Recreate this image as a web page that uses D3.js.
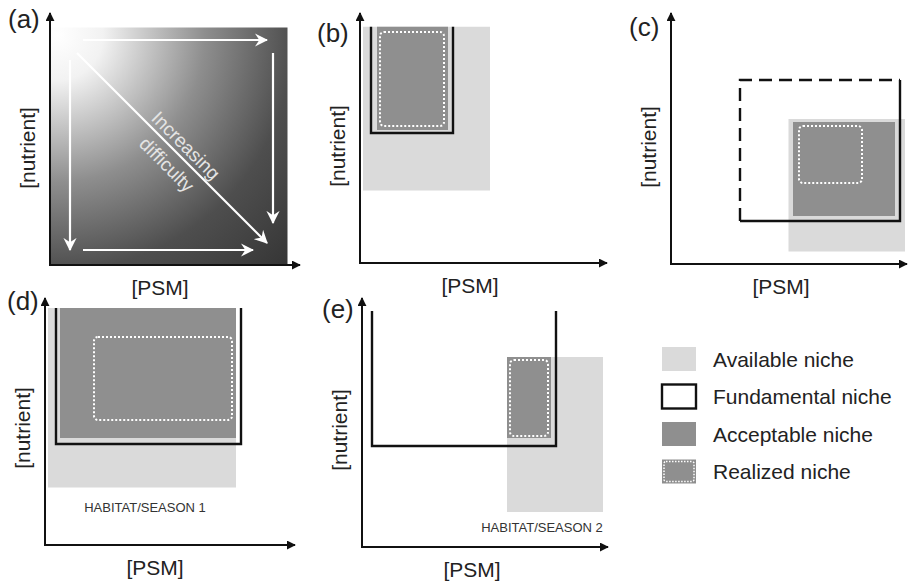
<!DOCTYPE html>
<html lang="en">
  <head>
    <meta charset="utf-8">
    <title>Niche panels</title>
    <style>
      body { margin: 0; background: #fff; }
      text { font-family: "Liberation Sans", Arial, sans-serif; fill: #222; }
    </style>
    <script src="https://d3js.org/d3.v7.min.js"></script>
  </head>
  <body>
    <div id="viz"></div>
    <script>

    // niche extents in axis units (0-100): [psmLow, psmHigh, nutLow, nutHigh]
    var panelLabels = ['(a)', '(b)', '(c)', '(d)', '(e)'];
    var availableNiche   = [null, [1.2, 52, 29, 94.5], [47, 93.6, 5, 58],     [1.2, 76.4, 23, 94.8], [58, 96.4, 14, 76]];
    var fundamentalNiche = [null, [4.4, 37.2, 52, 94.5], [27.6, 91.6, 17.2, 73.6], [4.4, 78.4, 40.4, 94.8], [4, 77.6, 40.4, 94.4]];
    var acceptableNiche  = [null, [6.8, 35.2, 53.2, 94.5], [48.8, 89.6, 19.2, 56.8], [6, 76.4, 42.8, 94.8], [58, 75.6, 43.6, 76]];
    var realizedNiche    = [null, [8, 33.6, 54.8, 92.4], [51.2, 76.4, 32.4, 55.2], [19.6, 74.8, 50, 83.2], [59.2, 74.4, 44.4, 74.8]];
    var habitatLabels = [null, null, null, 'HABITAT/SEASON 1', 'HABITAT/SEASON 2'];
    var legendItems = ['Available niche', 'Fundamental niche', 'Acceptable niche', 'Realized niche'];
    // panel (a): gradient square and arrows [x1, y1, x2, y2]
    var gradientSquare = [0, 95, 0, 95];
    var difficultyArrows = [[13.2, 90, 86.8, 90], [89.2, 84.8, 89.2, 16.8], [8, 82, 8, 6], [13.2, 6, 81.2, 6], [10.8, 84.8, 86.8, 8.8]];

    var lightGray = '#dadada',
        darkGray = '#8f8f8f';

    // axis origin and lengths for each panel
    var layout = [
      {ox: 50, oy: 265, xl: 250, yl: 252},
      {ox: 360, oy: 263, xl: 247, yl: 250},
      {ox: 671, oy: 264, xl: 236, yl: 251},
      {ox: 45, oy: 545, xl: 250, yl: 247},
      {ox: 362, oy: 547, xl: 246, yl: 249}
    ];

    var svg = d3.select('#viz')
        .append('svg')
        .attr('width', 912)
        .attr('height', 584);

    var defs = svg.append('defs');
    defs.append('marker')
        .attr('id', 'axisHead')
        .attr('viewBox', '0 0 10 10')
        .attr('refX', 9).attr('refY', 5)
        .attr('markerWidth', 4.5).attr('markerHeight', 4.5)
        .attr('markerUnits', 'strokeWidth')
        .attr('orient', 'auto')
      .append('path')
        .attr('d', 'M0,0 L10,5 L0,10 z')
        .attr('fill', '#111');
    defs.append('marker')
        .attr('id', 'whiteHead')
        .attr('viewBox', '0 0 12 12')
        .attr('refX', 11).attr('refY', 6)
        .attr('markerWidth', 6).attr('markerHeight', 6)
        .attr('markerUnits', 'strokeWidth')
        .attr('orient', 'auto')
      .append('path')
        .attr('d', 'M0,0 L12,6 L0,12 L4,6 z')
        .attr('fill', '#fff');
    var grad = defs.append('radialGradient')
        .attr('id', 'difficulty')
        .attr('gradientUnits', 'objectBoundingBox')
        .attr('cx', 0.03).attr('cy', 0.03).attr('r', 1.38)
        .attr('fx', 0.03).attr('fy', 0.03);
    [[0, '#ffffff'], [0.14, '#f2f2f2'], [0.45, '#8e8e8e'], [0.72, '#4e4e4e'], [1, '#353535']].forEach(function(s) {
      grad.append('stop').attr('offset', s[0]).attr('stop-color', s[1]);
    });

    function rectOf(g, ext, x, y) {
      return g.append('rect')
          .attr('x', x(ext[0]))
          .attr('y', y(ext[3]))
          .attr('width', x(ext[1]) - x(ext[0]))
          .attr('height', y(ext[2]) - y(ext[3]));
    }

    layout.forEach(function(L, i) {
      var g = svg.append('g');
      var x = d3.scaleLinear().domain([0, 100]).range([L.ox, L.ox + 250]);
      var y = d3.scaleLinear().domain([0, 100]).range([L.oy, L.oy - 250]);

      if (i === 0) {
        rectOf(g, gradientSquare, x, y).attr('fill', 'url(#difficulty)');
        g.selectAll('line.arrow')
          .data(difficultyArrows)
          .enter()
          .append('line')
            .attr('class', 'arrow')
            .attr('x1', function(d) { return x(d[0]); })
            .attr('y1', function(d) { return y(d[1]); })
            .attr('x2', function(d) { return x(d[2]); })
            .attr('y2', function(d) { return y(d[3]); })
            .attr('stroke', '#fff')
            .attr('stroke-width', 2.2)
            .attr('marker-end', 'url(#whiteHead)');
        var d = difficultyArrows[4];
        var t = 0.53;
        var px = x(d[0]) + t * (x(d[2]) - x(d[0])),
            py = y(d[1]) + t * (y(d[3]) - y(d[1]));
        var tg = g.append('g').attr('transform', 'translate(' + px + ',' + py + ') rotate(45)');
        tg.append('text').attr('y', -5).attr('text-anchor', 'middle')
          .style('font-size', '19px').style('fill', '#e4e4e4').text('Increasing');
        tg.append('text').attr('y', 22).attr('text-anchor', 'middle')
          .style('font-size', '19px').style('fill', '#e4e4e4').text('difficulty');
      } else {
        rectOf(g, availableNiche[i], x, y).attr('fill', lightGray);
        rectOf(g, acceptableNiche[i], x, y).attr('fill', darkGray);
        var r = realizedNiche[i];
        g.append('rect')
          .attr('x', x(r[0])).attr('y', y(r[3]))
          .attr('width', x(r[1]) - x(r[0]))
          .attr('height', y(r[2]) - y(r[3]))
          .attr('rx', 4).attr('ry', 4)
          .attr('fill', 'none')
          .attr('stroke', '#fff')
          .attr('stroke-width', 2)
          .attr('stroke-dasharray', '2,2');
        var f = fundamentalNiche[i];
        if (i === 2) {
          // unknown limits drawn dashed
          g.append('path')
            .attr('d', 'M' + x(f[0]) + ',' + y(f[2]) + 'L' + x(f[0]) + ',' + y(f[3]) + 'L' + x(f[1]) + ',' + y(f[3]))
            .attr('fill', 'none').attr('stroke', '#111').attr('stroke-width', 2.4)
            .attr('stroke-dasharray', '13,7');
          g.append('path')
            .attr('d', 'M' + x(f[0]) + ',' + y(f[2]) + 'L' + x(f[1]) + ',' + y(f[2]) + 'L' + x(f[1]) + ',' + y(f[3]))
            .attr('fill', 'none').attr('stroke', '#111').attr('stroke-width', 2.4);
        } else {
          g.append('path')
            .attr('d', 'M' + x(f[0]) + ',' + y(f[3]) + 'L' + x(f[0]) + ',' + y(f[2]) + 'L' + x(f[1]) + ',' + y(f[2]) + 'L' + x(f[1]) + ',' + y(f[3]))
            .attr('fill', 'none').attr('stroke', '#111').attr('stroke-width', 2.4);
        }
        if (habitatLabels[i]) {
          var hx = i === 3 ? x(40) : x(72);
          var hy = i === 3 ? L.oy - 33 : L.oy - 15;
          g.append('text')
            .attr('x', hx).attr('y', hy)
            .attr('text-anchor', 'middle')
            .style('font-size', '13px')
            .style('fill', '#333')
            .text(habitatLabels[i]);
        }
      }

      // axes
      g.append('line')
        .attr('x1', L.ox).attr('y1', L.oy + 1)
        .attr('x2', L.ox).attr('y2', L.oy - L.yl)
        .attr('stroke', '#111').attr('stroke-width', 2)
        .attr('marker-end', 'url(#axisHead)');
      g.append('line')
        .attr('x1', L.ox - 1).attr('y1', L.oy)
        .attr('x2', L.ox + L.xl).attr('y2', L.oy)
        .attr('stroke', '#111').attr('stroke-width', 2)
        .attr('marker-end', 'url(#axisHead)');

      g.append('text')
        .attr('x', L.ox + 110).attr('y', L.oy + 30)
        .attr('text-anchor', 'middle')
        .style('font-size', '21px')
        .text('[PSM]');
      g.append('text')
        .attr('transform', 'translate(' + (L.ox - 15) + ',' + (L.oy - 117) + ') rotate(-90)')
        .attr('text-anchor', 'middle')
        .style('font-size', '21px')
        .text('[nutrient]');
    });

    // panel letters
    var letterPos = [[8, 28], [317, 42], [629, 36], [7, 310], [322, 318]];
    svg.selectAll('text.letter')
      .data(panelLabels)
      .enter()
      .append('text')
        .attr('class', 'letter')
        .attr('x', function(d, i) { return letterPos[i][0]; })
        .attr('y', function(d, i) { return letterPos[i][1]; })
        .style('font-size', '26px')
        .text(function(d) { return d; });

    // legend
    var legend = svg.append('g').attr('transform', 'translate(662,347)');
    var item = legend.selectAll('g')
      .data(legendItems)
      .enter()
      .append('g')
        .attr('transform', function(d, i) { return 'translate(0,' + (i * 37.5) + ')'; });
    item.append('rect')
        .attr('width', 34).attr('height', 24)
        .attr('fill', function(d, i) { return i === 0 ? lightGray : i === 1 ? '#fff' : darkGray; })
        .attr('stroke', function(d, i) { return i === 1 ? '#111' : 'none'; })
        .attr('stroke-width', 2.4);
    item.filter(function(d, i) { return i === 3; })
      .append('rect')
        .attr('x', 2).attr('y', 2).attr('width', 30).attr('height', 20)
        .attr('rx', 2)
        .attr('fill', 'none')
        .attr('stroke', '#fff')
        .attr('stroke-width', 1.5)
        .attr('stroke-dasharray', '1.5,1.5');
    item.append('text')
        .attr('x', 51).attr('y', 12)
        .attr('dy', '0.36em')
        .style('font-size', '21px')
        .text(function(d) { return d; });

    </script>
  </body>
</html>
